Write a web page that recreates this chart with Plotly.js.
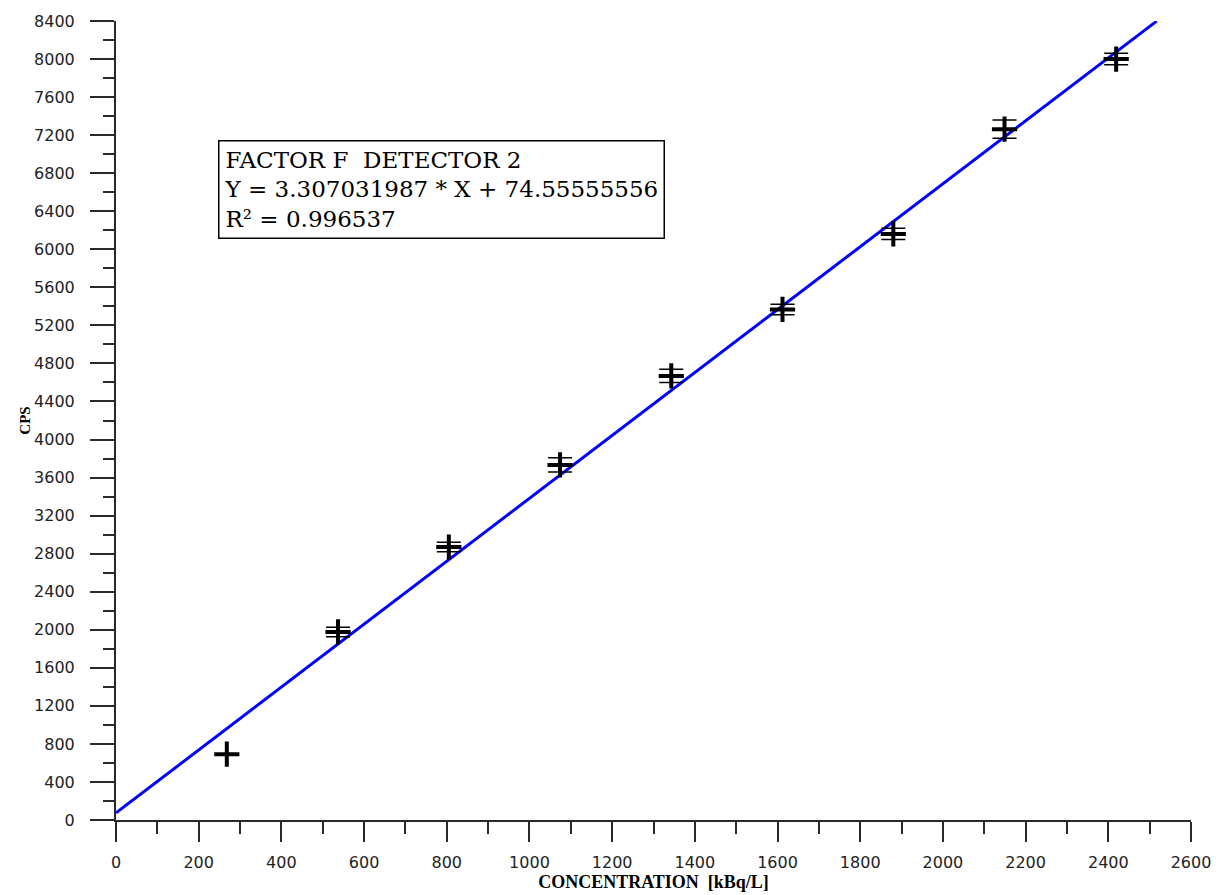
<!DOCTYPE html>
<html>
<head>
<meta charset="utf-8">
<script src="https://cdn.plot.ly/plotly-3.0.1.min.js"></script>
<style>html,body{margin:0;padding:0;background:#fff;}#chart{width:1222px;height:895px;}</style>
</head>
<body>
<div id="chart"></div>
<script>
// Data
const concentration = [268, 537, 805, 1074, 1343, 1612, 1880, 2149, 2419];
const cps = [692, 1977, 2870, 3733, 4669, 5368, 6162, 7263, 8000];
const cpsError = [0, 50, 50, 75, 70, 55, 60, 95, 60];
const fitSlope = 3.307031987;
const fitIntercept = 74.55555556;
const fitXRange = [0, 2517];
const annotationLines = ["FACTOR F  DETECTOR 2", "Y = 3.307031987 * X + 74.55555556", "R² = 0.996537"];
const xTitle = "CONCENTRATION  [kBq/L]";
const yTitle = "CPS";

const fitY = fitXRange.map(x => fitSlope * x + fitIntercept);

const axisColor = "#2a2a2a";
const tickFont = {family: "DejaVu Sans, Verdana, sans-serif", size: 16, color: "#222"};
const serif = "Liberation Serif, Times New Roman, serif";

const traces = [
  {
    x: fitXRange, y: fitY, mode: "lines", type: "scatter",
    line: {color: "#0000ff", width: 3}, hoverinfo: "skip", showlegend: false
  },
  {
    x: concentration, y: cps, mode: "markers", type: "scatter",
    marker: {symbol: "cross-thin", size: 18, color: "#000", line: {color: "#000", width: 4}},
    error_y: {type: "data", array: cpsError, visible: true, color: "#000", thickness: 1.5, width: 12},
    cliponaxis: false, showlegend: false
  }
];

const layout = {
  width: 1222, height: 895,
  margin: {l: 116, r: 31, t: 21, b: 75},
  paper_bgcolor: "#fff", plot_bgcolor: "#fff",
  showlegend: false,
  xaxis: {
    range: [0, 2600], dtick: 200, tick0: 0,
    showgrid: false, zeroline: false, showline: true, linecolor: axisColor, linewidth: 2,
    ticks: "outside", ticklen: 20, tickwidth: 2, tickcolor: axisColor,
    minor: {dtick: 100, ticks: "outside", ticklen: 12, tickwidth: 2, tickcolor: axisColor, showgrid: false},
    tickfont: tickFont, ticklabelstandoff: 7,
    title: {text: xTitle, font: {family: serif, size: 18, color: "#000", weight: "bold"}, standoff: 4}
  },
  yaxis: {
    range: [0, 8400], dtick: 400, tick0: 0,
    showgrid: false, zeroline: false, showline: true, linecolor: axisColor, linewidth: 2,
    ticks: "outside", ticklen: 24, tickwidth: 2, tickcolor: axisColor,
    minor: {dtick: 200, ticks: "outside", ticklen: 11, tickwidth: 2, tickcolor: axisColor, showgrid: false},
    tickfont: tickFont, ticklabelstandoff: 12,
    title: {text: yTitle, font: {family: serif, size: 15, color: "#000", weight: "bold"}, standoff: 0}
  },
  shapes: [
    {type: "line", xref: "paper", yref: "y", x0: -24 / 1075, x1: 0, y0: 0, y1: 0, line: {color: axisColor, width: 2}},
    {type: "line", xref: "x", yref: "paper", x0: 0, x1: 0, y0: 0, y1: -20 / 799, line: {color: axisColor, width: 2}}
  ],
  annotations: [
    {
      xref: "x", yref: "y", x: 247, y: 7150, xanchor: "left", yanchor: "top",
      text: annotationLines.join("<br>"), align: "left", showarrow: false,
      font: {family: "DejaVu Serif, serif", size: 23, color: "#000"},
      bordercolor: "#000", borderwidth: 1.5, borderpad: 5, bgcolor: "#fff"
    }
  ]
};

Plotly.newPlot("chart", traces, layout, {displayModeBar: false, staticPlot: true});
</script>
</body>
</html>
